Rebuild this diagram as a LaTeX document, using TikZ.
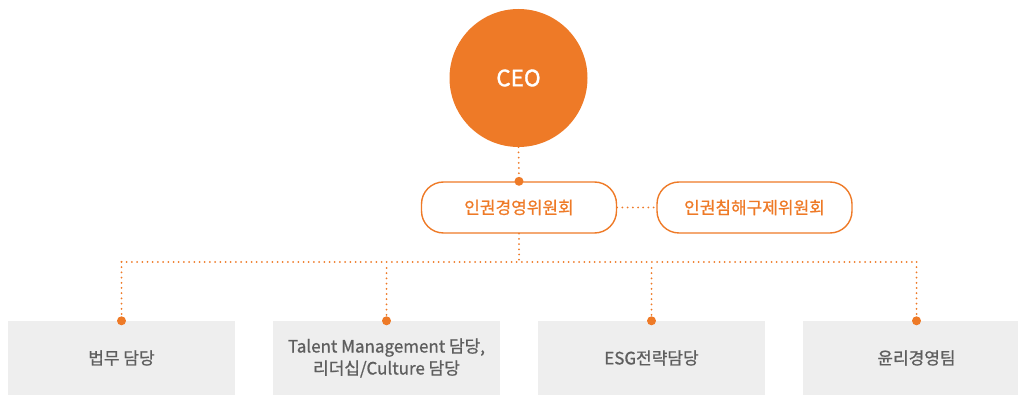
\documentclass[tikz,border=0pt]{standalone}
\usepackage{fontspec}
\setmainfont{Noto Sans CJK KR}
\newfontfamily\medf[FakeBold=0.9]{Noto Sans CJK KR}
\newfontfamily\ceof[FakeBold=1.6]{Noto Sans CJK KR}
\definecolor{org}{HTML}{EE7A27}
\definecolor{boxgray}{HTML}{EEEEEE}
\definecolor{txtgray}{HTML}{5E5E5E}
\begin{document}
\begin{tikzpicture}[x=1pt,y=-1pt,
  dotline/.style={org, line width=2pt, dash pattern=on 0pt off 5.2pt, line cap=round},
  ceo/.style={circle, fill=org, minimum size=138pt, inner sep=0pt, text=white, font=\ceof\fontsize{22.5}{26}\selectfont},
  comm/.style={draw=org, line width=1.4pt, rounded corners=22pt, minimum width=195pt, minimum height=51pt, inner sep=0pt, text=org, font=\medf\fontsize{17}{20}\selectfont},
  unit/.style={fill=boxgray, minimum width=227pt, minimum height=74pt, inner sep=0pt, text=txtgray, align=center, font=\medf\fontsize{17}{22}\selectfont},
  odot/.style={circle, fill=org, minimum size=9pt, inner sep=0pt}]
\useasboundingbox (0,0) rectangle (1018,395);
\clip (0,0) rectangle (1018,395);
% nodes
\node[ceo] (ceo) at (518.5,78) {CEO};
\node[comm] (hr) at (519,207.5) {인권경영위원회};
\node[comm] (rem) at (754.5,207.5) {인권침해구제위원회};
\node[unit] (u1) at (121.5,358) {법무 담당};
\node[unit] (u2) at (386.5,358) {Talent Management 담당,\\리더십/Culture 담당};
\node[unit] (u3) at (651.5,358) {ESG전략담당};
\node[unit] (u4) at (916.5,358) {윤리경영팀};
% connection points
\node[odot] (dc) at (hr.north) {};
\node[odot] (d1) at (u1.north) {};
\node[odot] (d2) at (u2.north) {};
\node[odot] (d3) at (u3.north) {};
\node[odot] (d4) at (u4.north) {};
\coordinate (hj) at (519,262);
\coordinate (hl) at (121.5,262);
\coordinate (hrr) at (916.5,262);
\coordinate (t2) at (386.5,268);
\coordinate (t3) at (651.5,268);
% connectors
\draw[dotline] (ceo.south) -- (dc);
\draw[dotline] (hr.east) -- (rem.west);
\draw[dotline] (hr.south) -- (hj);
\draw[dotline] (hl) -- (hrr);
\draw[dotline] (hl) -- (d1);
\draw[dotline] (hrr) -- (d4);
\draw[dotline] (t2) -- (d2);
\draw[dotline] (t3) -- (d3);
\end{tikzpicture}
\end{document}
